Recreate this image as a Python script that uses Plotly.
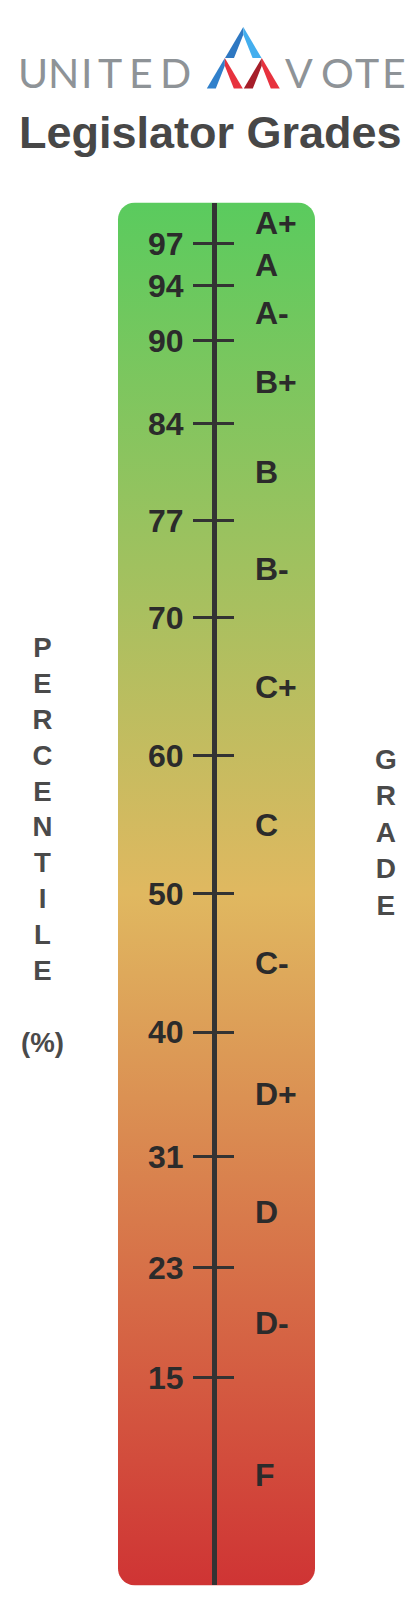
import numpy as np
import plotly.graph_objects as go

# ---------------- data ----------------
percentile_ticks = [97, 94, 90, 84, 77, 70, 60, 50, 40, 31, 23, 15]
percentile_labels = [str(v) for v in percentile_ticks]
grades = ["A+", "A", "A-", "B+", "B", "B-", "C+", "C", "C-", "D+", "D", "D-", "F"]
grade_positions = [98.5, 95.5, 92, 87, 80.5, 73.5, 65, 55, 45, 35.5, 27, 19, 8]
scale_range = [0, 100]
left_title = ["P", "E", "R", "C", "E", "N", "T", "I", "L", "E", "", "(%)"]
right_title = ["G", "R", "A", "D", "E"]
brand_left = "UNITED"
brand_right = "VOTE"
chart_title = "Legislator Grades"

# ---------------- layout constants (pixels) ----------------
W, H = 417, 1613
PX_Y0, PX_Y100 = 1585.4, 202.5      # pixel rows of 0 and 100
AXIS_X = 213.7
BAR_L, BAR_R = 118, 315
RADIUS = 17
TXT = "#2b2b2b"
FONT = "Liberation Sans, Arial, Helvetica, sans-serif"


def pyp(v):
    return 1 - v / H


def pxp(v):
    return v / W


unit = (PX_Y0 - PX_Y100) / (scale_range[1] - scale_range[0])

# rounded bar outline in data coordinates (x in pixels, y in percent)
rx, ry = RADIUS, RADIUS / unit
lo, hi = scale_range
xs, ys = [], []


def arc(cx, cy, a0, a1, n=12):
    for a in np.linspace(np.radians(a0), np.radians(a1), n):
        xs.append(cx + rx * np.cos(a))
        ys.append(cy + ry * np.sin(a))


arc(BAR_R - rx, hi - ry, 90, 0)
arc(BAR_R - rx, lo + ry, 0, -90)
arc(BAR_L + rx, lo + ry, -90, -180)
arc(BAR_L + rx, hi - ry, 180, 90)
xs.append(xs[0]); ys.append(ys[0])

fig = go.Figure()
fig.add_trace(go.Scatter(
    x=xs, y=ys, mode="none", fill="toself",
    fillgradient=dict(type="vertical",
                      colorscale=[[0, "#CF3434"], [0.5, "#E0B860"], [1, "#5ACB5E"]],
                      start=lo, stop=hi),
    hoverinfo="skip", showlegend=False))
fig.add_trace(go.Scatter(
    x=[AXIS_X] * len(percentile_ticks), y=percentile_ticks, yaxis="y2",
    mode="markers", marker=dict(opacity=0), hoverinfo="skip", showlegend=False))

dom = [pyp(PX_Y0), pyp(PX_Y100)]
tick_common = dict(range=scale_range, tickmode="array", tickvals=percentile_ticks,
                   ticks="outside", ticklen=19, tickwidth=2.5, tickcolor="#333333",
                   showgrid=False, zeroline=False, fixedrange=True,
                   anchor="free", position=AXIS_X / W)

fig.update_layout(
    width=W, height=H, margin=dict(l=0, r=0, t=0, b=0),
    paper_bgcolor="white", plot_bgcolor="rgba(0,0,0,0)", showlegend=False,
    xaxis=dict(range=[0, W], domain=[0, 1], visible=False, fixedrange=True),
    yaxis=dict(domain=dom, side="left", showline=True, linewidth=4.5, linecolor="#333333",
               ticktext=percentile_labels, ticklabelstandoff=3,
               tickfont=dict(family=FONT, size=32, color=TXT, weight="bold"),
               **tick_common),
    yaxis2=dict(overlaying="y", side="right", showline=False, showticklabels=False,
                **tick_common),
)

ann = []
for g, p in zip(grades, grade_positions):
    ann.append(dict(text=g, x=pxp(253), xref="paper", xanchor="left",
                    y=p, yref="y", yanchor="middle", showarrow=False,
                    font=dict(family=FONT, size=32, color=TXT, weight="bold")))

ann.append(dict(text=chart_title, x=pxp(211), y=pyp(133), xref="paper", yref="paper",
                xanchor="center", yanchor="middle", showarrow=False,
                font=dict(family=FONT, size=45, color="#474747", weight="bold")))

ann.append(dict(text="<br>".join(left_title), x=pxp(42), y=pyp(845), xref="paper", yref="paper",
                xanchor="center", yanchor="middle", showarrow=False, align="center",
                font=dict(family=FONT, size=27.6, color="#4a4a4a", weight="bold")))
ann.append(dict(text="<br>".join(right_title), x=pxp(386), y=pyp(832), xref="paper", yref="paper",
                xanchor="center", yanchor="middle", showarrow=False, align="center",
                font=dict(family=FONT, size=28, color="#4a4a4a", weight="bold")))

# brand wordmark, letter-spaced
left_centers = [33, 63, 86, 110, 141, 175]
right_centers = [299, 337, 367, 394]
for ch, cx in list(zip(brand_left, left_centers)) + list(zip(brand_right, right_centers)):
    ann.append(dict(text=ch, x=pxp(cx), y=pyp(73), xref="paper", yref="paper",
                    xanchor="center", yanchor="middle", showarrow=False,
                    font=dict(family="Lato, Open Sans, sans-serif", size=41,
                              color="#8E9397", weight=400)))
fig.update_layout(annotations=ann)

# brand icon (three chevrons)
slope = 36 / 61
t = 9


def chevron(ax_, ay, h, cl, cr):
    hw = h * slope
    inner = ay + t / slope / 2 * 1.0
    shp = []
    pts_l = [(ax_, ay), (ax_ - hw, ay + h), (ax_ - hw + t, ay + h), (ax_, inner)]
    pts_r = [(ax_, ay), (ax_, inner), (ax_ + hw - t, ay + h), (ax_ + hw, ay + h)]
    for pts, c in ((pts_l, cl), (pts_r, cr)):
        path = "M " + " L ".join(f"{pxp(x):.5f},{pyp(y):.5f}" for x, y in pts) + " Z"
        shp.append(dict(type="path", path=path, xref="paper", yref="paper",
                        fillcolor=c, line=dict(width=0), layer="above"))
    return shp


shapes = []
shapes += chevron(224.8, 58, 30.5, "#3080CB", "#E7323E")
shapes += chevron(261.8, 58, 30.5, "#A61E29", "#E7323E")
shapes += chevron(243.3, 27, 31, "#2E78C2", "#43AEEE")
fig.update_layout(shapes=shapes)

fig.write_html("out.html", config={"displayModeBar": False},
               post_script="document.body.style.margin='0';document.body.style.overflow='hidden';")
